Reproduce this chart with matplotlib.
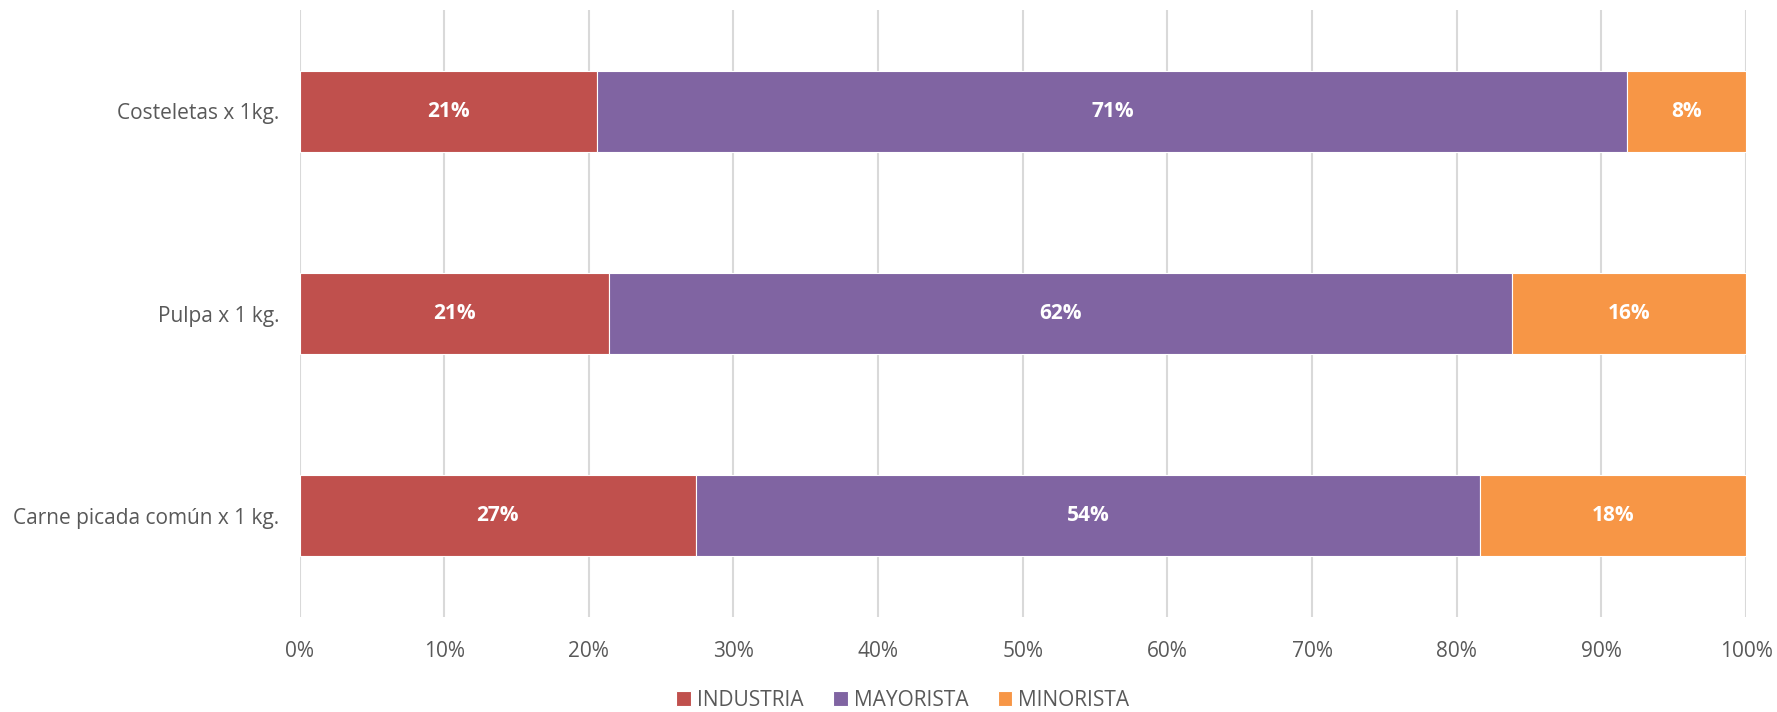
import matplotlib
matplotlib.use("Agg")
import matplotlib.pyplot as plt
import numpy as np

categories = ["Costeletas x 1kg.", "Pulpa x 1 kg.", "Carne picada común x 1 kg."]
series_names = ["INDUSTRIA", "MAYORISTA", "MINORISTA"]
industria = [20.6, 21.4, 27.4]
mayorista = [71.2, 62.4, 54.2]
minorista = [8.2, 16.2, 18.4]
xticks = [0, 10, 20, 30, 40, 50, 60, 70, 80, 90, 100]

colors = ["#C0504D", "#8064A2", "#F79646"]
text_color = "#595959"

plt.rcParams['font.family'] = ['Open Sans', 'DejaVu Sans']
fs = 15

fig = plt.figure(figsize=(17.77, 7.12), dpi=100)
ax = fig.add_axes([299.5/1777, 1-617/712, (1746-299.5)/1777, (617-10)/712])

y = np.arange(len(categories))
left = np.zeros(len(categories))
for name, vals, c in zip(series_names, [industria, mayorista, minorista], colors):
    vals = np.array(vals)
    ax.barh(y, vals, left=left, height=0.4, color=c, edgecolor="white",
            linewidth=0.8, label=name, zorder=3)
    for yi, l, v in zip(y, left, vals):
        ax.text(l + v/2, yi, f"{round(v):.0f}%", ha="center", va="center",
                color="white", fontweight="bold", fontsize=fs, zorder=4)
    left = left + vals

ax.set_xlim(0, 100)
ax.set_ylim(len(categories) - 0.5, -0.5)
ax.set_yticks(y)
ax.set_yticklabels(categories, fontsize=fs, color=text_color)
ax.set_xticks(xticks)
ax.set_xticklabels([f"{t}%" for t in xticks], fontsize=fs, color=text_color)
ax.tick_params(axis="both", length=0)
ax.tick_params(axis="x", pad=17)
ax.tick_params(axis="y", pad=14.5)
ax.grid(axis="x", color="#D9D9D9", linewidth=1.5, zorder=0)
for s in ax.spines.values():
    s.set_visible(False)

leg = fig.legend(loc="center", bbox_to_anchor=(903/1777, 1-700/712), ncol=3,
                 frameon=False, fontsize=fs, handlelength=0.7, handleheight=0.7,
                 handletextpad=0.3, columnspacing=1.4)
for t in leg.get_texts():
    t.set_color(text_color)

fig.savefig("out.png", dpi=100)
